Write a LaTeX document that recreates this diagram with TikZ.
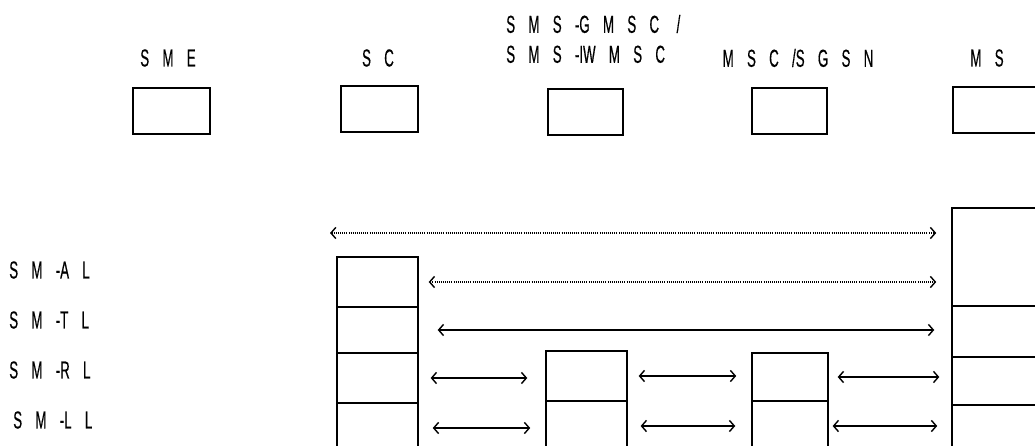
\documentclass[tikz,border=0pt]{standalone}
\usepackage{fontspec}
\newfontfamily\diagfont[FakeStretch=0.54,WordSpace=3.6,FakeBold=0.4]{Liberation Sans}
\usetikzlibrary{arrows.meta}

\tikzset{
    lbl/.style={font=\diagfont\fontsize{17.5}{21.3}\selectfont,inner sep=0pt},
    unit/.style={draw,line width=1pt,inner sep=0pt},
    peer/.style={line width=0.85pt,{Straight Barb[length=3.5pt,width=8pt,line width=1pt]}-{Straight Barb[length=3.5pt,width=8pt,line width=1pt]}},
    virt/.style={peer,dash pattern=on 0.6pt off 0.9pt}
}

\begin{document}
\begin{tikzpicture}[x=0.025cm,y=-0.025cm]
\useasboundingbox (0,0) rectangle (1035,446);

% === Entities (top row) ===
\node[lbl] (sme-t) at (168,58) {S M E};
\node[lbl] (sc-t) at (378,58) {S C};
\node[lbl,anchor=west,align=left] (gm-t) at (506,39) {S M S -G M S C \hspace{3pt}/\\S M S -IW M S C};
\node[lbl] (msc-t) at (798,58) {M S C /S G S N};
\node[lbl] (ms-t) at (987,58) {M S};

\node[unit,minimum width=1.925cm,minimum height=1.15cm] (sme) at (171.5,111) {};
\node[unit,minimum width=1.925cm,minimum height=1.15cm] (sc) at (379.5,109) {};
\node[unit,minimum width=1.875cm,minimum height=1.15cm] (gm) at (585.5,112) {};
\node[unit,minimum width=1.875cm,minimum height=1.15cm] (msc) at (789.5,111) {};
\node[unit,minimum width=2.25cm,minimum height=1.15cm] (ms) at (998,110) {};

% === Layer names ===
\node[lbl,anchor=west] (al) at (9,270) {S M -A L};
\node[lbl,anchor=west] (tl) at (9,320) {S M -T L};
\node[lbl,anchor=west] (rl) at (9,370) {S M -R L};
\node[lbl,anchor=west] (ll) at (13,420) {S M -L L};

% === Protocol stacks ===
% SC
\node[unit,minimum width=2.025cm,minimum height=1.25cm] (sc-al) at (377.5,282) {};
\node[unit,minimum width=2.025cm,minimum height=1.15cm] (sc-tl) at (377.5,330) {};
\node[unit,minimum width=2.025cm,minimum height=1.25cm] (sc-rl) at (377.5,378) {};
\node[unit,minimum width=2.025cm,minimum height=1.25cm] (sc-ll) at (377.5,428) {};
% SMS-GMSC
\node[unit,minimum width=2.025cm,minimum height=1.25cm] (gm-rl) at (586.5,376) {};
\node[unit,minimum width=2.025cm,minimum height=1.25cm] (gm-ll) at (586.5,426) {};
% MSC/SGSN
\node[unit,minimum width=1.9cm,minimum height=1.2cm] (msc-rl) at (790,377) {};
\node[unit,minimum width=1.9cm,minimum height=1.25cm] (msc-ll) at (790,426) {};
% MS
\node[unit,minimum width=2.25cm,minimum height=2.45cm] (ms-al) at (997,257) {};
\node[unit,minimum width=2.25cm,minimum height=1.275cm] (ms-tl) at (997,331.5) {};
\node[unit,minimum width=2.25cm,minimum height=1.2cm] (ms-rl) at (997,381) {};
\node[unit,minimum width=2.25cm,minimum height=1.25cm] (ms-ll) at (997,430) {};

% === Peer relations ===
\coordinate (sme-end) at (330,233);
\draw[virt,shorten >=10.7pt] (sme-end) -- (sme-end -| ms-al.west);
\draw[virt,shorten <=7.1pt,shorten >=10.7pt] (sc-al.east) -- (sc-al.east -| ms-al.west);
\draw[peer,shorten <=13.5pt,shorten >=12.1pt] (sc-tl.east) -- (sc-tl.east -| ms-tl.west);

\draw[peer,shorten <=8.5pt,shorten >=12.8pt] (sc-rl.east) -- (sc-rl.east -| gm-rl.west);
\draw[peer,shorten <=7.8pt,shorten >=10.7pt] (gm-rl.east) -- (gm-rl.east -| msc-rl.west);
\draw[peer,shorten <=6.4pt,shorten >=8.5pt] (msc-rl.east) -- (msc-rl.east -| ms-rl.west);

\draw[peer,shorten <=10pt,shorten >=10.7pt] (sc-ll.east) -- (sc-ll.east -| gm-ll.west);
\draw[peer,shorten <=9.2pt,shorten >=11.4pt] (gm-ll.east) -- (gm-ll.east -| msc-ll.west);
\draw[peer,shorten <=2.8pt,shorten >=10pt] (msc-ll.east) -- (msc-ll.east -| ms-ll.west);

\end{tikzpicture}
\end{document}
